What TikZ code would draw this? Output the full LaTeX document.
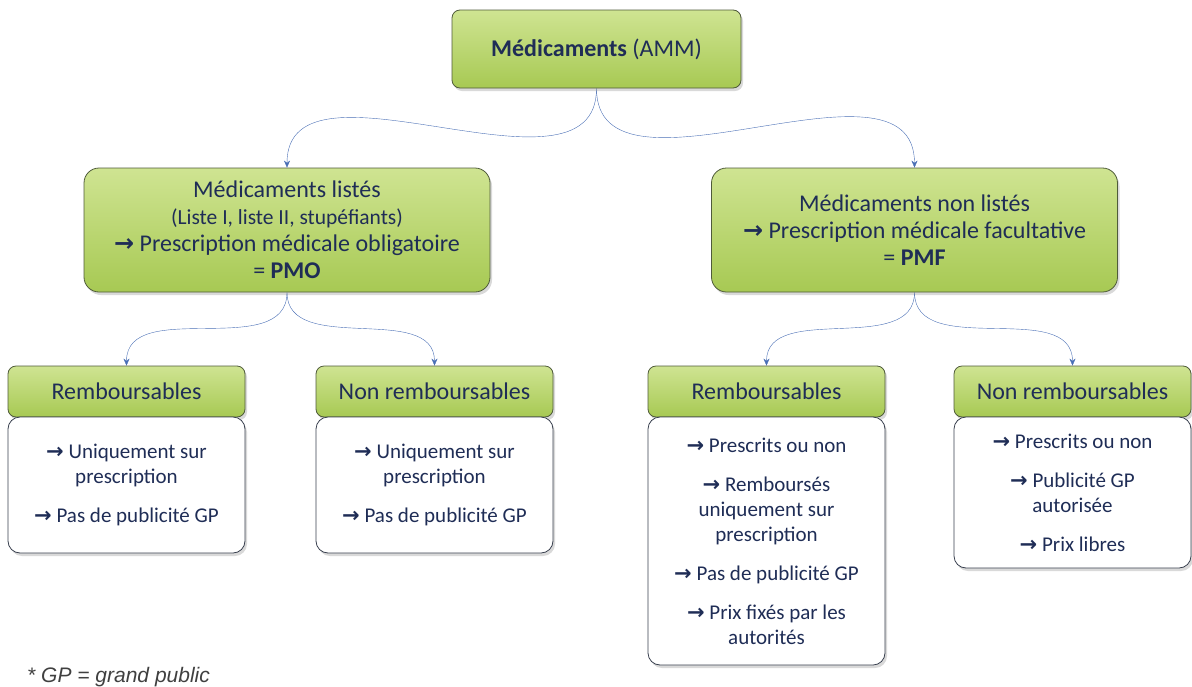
\documentclass[tikz,border=0pt]{standalone}
\usepackage{fontspec}
\setmainfont{Carlito}
\newfontfamily\symfont{DejaVu Sans}
\newfontfamily\notefont{Liberation Sans}
\usetikzlibrary{arrows.meta,shadows,positioning,backgrounds}
\pgfdeclarelayer{edgelayer}
\pgfdeclarelayer{nodelayer}
\pgfsetlayers{background,edgelayer,nodelayer,main}
\definecolor{navy}{HTML}{1F2D56}
\definecolor{grntop}{HTML}{CFE492}
\definecolor{grnbot}{HTML}{A7C953}
\definecolor{grnline}{HTML}{4F5B3A}
\definecolor{wbline}{HTML}{39404F}
\definecolor{connblue}{HTML}{4A6FB5}
\newcommand{\fl}{{\symfont\bfseries →}}
\tikzstyle{shd}=[drop shadow={opacity=0.3,shadow xshift=2pt,shadow yshift=-3pt}]
\tikzstyle{gbox}=[shd,draw=grnline,thick,top color=grntop,bottom color=grnbot,text=navy,align=center,inner sep=0pt]
\tikzstyle{topbox}=[gbox,minimum width=289pt,minimum height=78pt,rounded corners=8pt,font=\fontsize{24}{29}\selectfont]
\tikzstyle{lvbox}=[gbox,minimum width=406pt,minimum height=124pt,rounded corners=15pt,font=\fontsize{24}{27}\selectfont]
\tikzstyle{hb}=[gbox,minimum width=237pt,minimum height=51pt,rounded corners=8pt,font=\fontsize{24}{28}\selectfont]
\tikzstyle{wb}=[shd,draw=wbline,thick,fill=white,text=navy,align=center,inner sep=0pt,minimum width=237pt,rounded corners=12pt,font=\fontsize{21}{25}\selectfont]
\tikzstyle{conn}=[draw=connblue,-{Stealth[length=7pt,width=6pt]}]

\begin{document}
\begin{tikzpicture}[x=1pt,y=-1pt]
	\useasboundingbox (0,0) rectangle (1192,686);
	\begin{pgfonlayer}{nodelayer}
		\node [style=topbox] (amm) at (596.5, 49) {\textbf{Médicaments} (AMM)};
		\node [style=lvbox] (lst) at (287, 230) {Médicaments listés\\
			{\fontsize{21.5}{27}\selectfont (Liste I, liste II, stupéfiants)}\\
			\fl{} Prescription médicale obligatoire\\
			= \textbf{PMO}};
		\node [style=lvbox] (nlst) at (914.5, 230) {Médicaments non listés\\
			\fl{} Prescription médicale facultative\\
			= \textbf{PMF}};
		\node [style=hb] (r1) at (126.5, 391.5) {Remboursables};
		\node [style=hb] (n1) at (434.5, 391.5) {Non remboursables};
		\node [style=hb] (r2) at (766.5, 391.5) {Remboursables};
		\node [style=hb] (n2) at (1072.5, 391.5) {Non remboursables};
		\node [style=wb,minimum height=136pt] (r1b) at (126.5, 485) {\fl{} Uniquement sur\\ prescription\\[14pt]
			\fl{} Pas de publicité GP};
		\node [style=wb,minimum height=136pt] (n1b) at (434.5, 485) {\fl{} Uniquement sur\\ prescription\\[14pt]
			\fl{} Pas de publicité GP};
		\node [style=wb,minimum height=248pt] (r2b) at (766.5, 541) {\fl{} Prescrits ou non\\[14pt]
			\fl{} Remboursés\\ uniquement sur\\ prescription\\[14pt]
			\fl{} Pas de publicité GP\\[14pt]
			\fl{} Prix fixés par les\\ autorités};
		\node [style=wb,minimum height=151pt] (n2b) at (1072.5, 492.5) {\fl{} Prescrits ou non\\[14pt]
			\fl{} Publicité GP\\ autorisée\\[14pt]
			\fl{} Prix libres};
		\node [anchor=base west,inner sep=0pt,text=black!75,font=\notefont\itshape\fontsize{21}{25}\selectfont] (note) at (27, 682) {* GP = grand public};
	\end{pgfonlayer}
	\begin{pgfonlayer}{edgelayer}
		\draw [style=conn] (amm.south) to [out=-90,in=90] (lst.north);
		\draw [style=conn] (amm.south) to [out=-90,in=90] (nlst.north);
		\draw [style=conn] (lst.south) to [out=-90,in=90] (r1.north);
		\draw [style=conn] (lst.south) to [out=-90,in=90] (n1.north);
		\draw [style=conn] (nlst.south) to [out=-90,in=90] (r2.north);
		\draw [style=conn] (nlst.south) to [out=-90,in=90] (n2.north);
	\end{pgfonlayer}
\end{tikzpicture}
\end{document}
